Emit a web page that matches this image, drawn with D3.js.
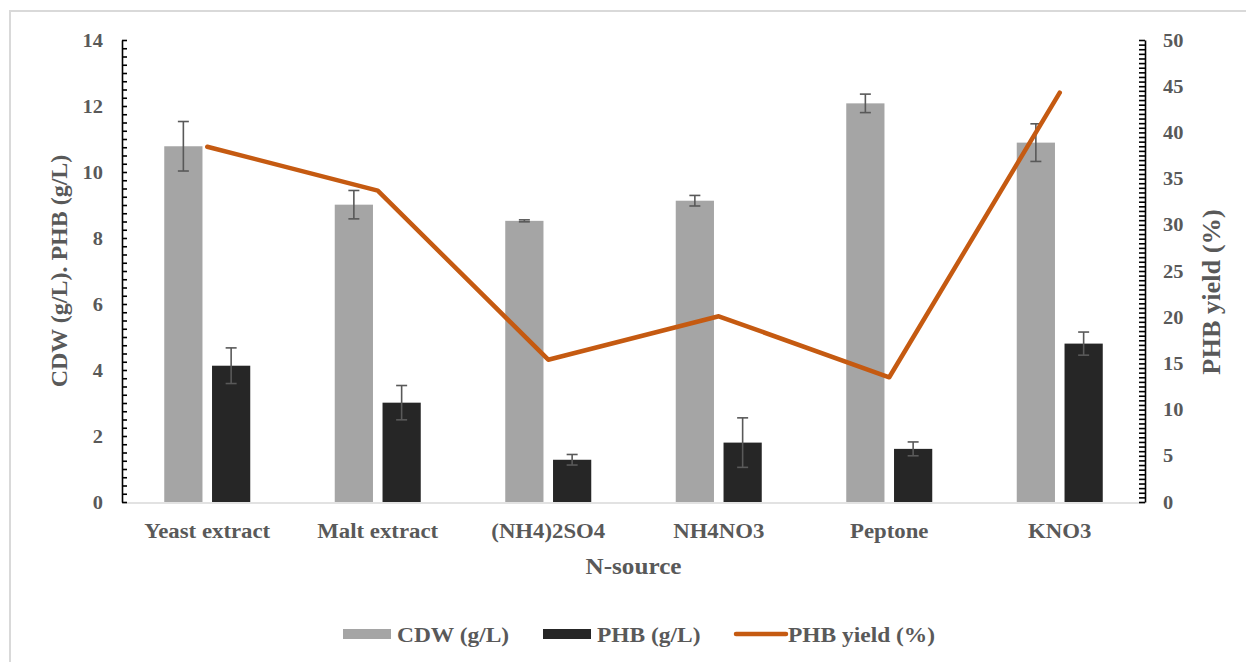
<!DOCTYPE html>
<html>
<head>
<meta charset="utf-8">
<script src="https://cdn.jsdelivr.net/npm/d3@7/dist/d3.min.js"></script>
<style>
  body { margin: 0; background: #fff; }
  svg { display: block; }
  text { font-family: "Liberation Serif", "Times New Roman", serif; font-weight: bold; fill: #595959; }
</style>
</head>
<body>
<div id="chart"></div>
<script>
const categories = ["Yeast extract", "Malt extract", "(NH4)2SO4", "NH4NO3", "Peptone", "KNO3"];
const cdw = [10.78, 9.01, 8.52, 9.13, 12.08, 10.89];
const cdwErr = [0.75, 0.43, 0.03, 0.16, 0.28, 0.57];
const phb = [4.13, 3.01, 1.28, 1.80, 1.61, 4.80];
const phbErr = [0.54, 0.52, 0.16, 0.75, 0.21, 0.35];
const phbYield = [38.45, 33.7, 15.4, 20.1, 13.5, 44.3];
const leftTicks = [0, 2, 4, 6, 8, 10, 12, 14];
const rightTicks = [0, 5, 10, 15, 20, 25, 30, 35, 40, 45, 50];

const W = 1246, H = 662;
const plotL = 122, plotR = 1145, plotT = 40, plotB = 502;
const stretch = 1.08; // text in the original is drawn a little wide

const colors = { cdw: "#a5a5a5", phb: "#262626", line: "#c55a11", err: "#595959" };

const svg = d3.select("#chart").append("svg")
  .attr("width", W)
  .attr("height", H);

// outer chart border
svg.append("rect")
  .attr("x", 10).attr("y", 11)
  .attr("width", W + 20).attr("height", H + 20)
  .attr("fill", "none")
  .attr("stroke", "#d9d9d9")
  .attr("stroke-width", 2);

const x0 = d3.scaleBand().domain(categories).range([plotL, plotR]);
const bw = x0.bandwidth();
const x1 = d3.scaleBand().domain(["cdw", "phb"])
  .range([bw / 2 - 43, bw / 2 + 43])
  .paddingInner(0.2);

const yL = d3.scaleLinear().domain([0, 14]).range([plotB, plotT]);
const yR = d3.scaleLinear().domain([0, 50]).range([plotB, plotT]);

const rows = categories.map((c, i) => ({
  cat: c, cdw: cdw[i], cdwErr: cdwErr[i], phb: phb[i], phbErr: phbErr[i], yld: phbYield[i]
}));

// helper for wide text
function label(g, x, y, txt, size, anchor, rot) {
  return g.append("text")
    .attr("transform", `translate(${x},${y})` + (rot ? ` rotate(${rot})` : "") + ` scale(${stretch},1)`)
    .attr("text-anchor", anchor)
    .style("font-size", size + "px")
    .text(txt);
}

// x axis line
svg.append("g")
  .attr("transform", `translate(0,${plotB + 0.5})`)
  .call(d3.axisBottom(x0).tickSize(0).tickFormat(""))
  .call(g => g.select(".domain").attr("stroke", "#d9d9d9").attr("stroke-width", 1.5));

// bars
const groups = svg.selectAll(".grp")
  .data(rows)
  .enter()
  .append("g")
  .attr("transform", d => `translate(${x0(d.cat)},0)`);

["cdw", "phb"].forEach(k => {
  groups.append("rect")
    .attr("x", x1(k))
    .attr("width", x1.bandwidth())
    .attr("y", d => yL(d[k]))
    .attr("height", d => yL(0) - yL(d[k]))
    .attr("fill", colors[k]);

  // error bars
  const eb = groups.append("g").attr("stroke", colors.err).attr("stroke-width", 1.6);
  const cx = x1(k) + x1.bandwidth() / 2;
  eb.append("line")
    .attr("x1", cx).attr("x2", cx)
    .attr("y1", d => yL(d[k] + d[k + "Err"]))
    .attr("y2", d => yL(d[k] - d[k + "Err"]));
  eb.append("line")
    .attr("x1", cx - 5.5).attr("x2", cx + 5.5)
    .attr("y1", d => yL(d[k] + d[k + "Err"]))
    .attr("y2", d => yL(d[k] + d[k + "Err"]));
  eb.append("line")
    .attr("x1", cx - 5.5).attr("x2", cx + 5.5)
    .attr("y1", d => yL(d[k] - d[k + "Err"]))
    .attr("y2", d => yL(d[k] - d[k + "Err"]));
});

// yield line
const line = d3.line()
  .x(d => x0(d.cat) + bw / 2)
  .y(d => yR(d.yld));

svg.append("path")
  .datum(rows)
  .attr("d", line)
  .attr("fill", "none")
  .attr("stroke", colors.line)
  .attr("stroke-width", 4.5)
  .attr("stroke-linejoin", "round")
  .attr("stroke-linecap", "round");

// left axis
const axL = svg.append("g").attr("transform", `translate(${plotL},0)`);
axL.call(d3.axisLeft(yL).tickValues(leftTicks).tickSize(6).tickSizeOuter(0).tickFormat(""));
axL.call(d3.axisRight(yL).tickValues(d3.range(0, 14.01, 0.25)).tickSize(5).tickSizeOuter(0).tickFormat(""));
axL.selectAll("line, path").attr("stroke", "#000").attr("stroke-width", 1.6);

// right axis
const axR = svg.append("g").attr("transform", `translate(${plotR},0)`);
axR.call(d3.axisRight(yR).tickValues(rightTicks).tickSize(6).tickSizeOuter(0).tickFormat(""));
axR.call(d3.axisLeft(yR).tickValues(d3.range(0, 50.01, 0.5)).tickSize(6).tickSizeOuter(0).tickFormat(""));
axR.selectAll("line, path").attr("stroke", "#000").attr("stroke-width", 1.6);

// tick labels
leftTicks.forEach(v => label(svg, 103, yL(v) + 6.5, v, 18.9, "end"));
rightTicks.forEach(v => label(svg, 1163, yR(v) + 6.5, v, 18.9, "start"));

categories.forEach(c => label(svg, x0(c) + bw / 2, 538, c, 21.1, "middle"));

// axis titles
label(svg, (plotL + plotR) / 2, 574, "N-source", 23.3, "middle");
label(svg, 67, (plotT + plotB) / 2, "CDW (g/L). PHB (g/L)", 22.2, "middle", -90);
label(svg, 1220, 292, "PHB yield (%)", 24.4, "middle", -90);

// legend
const legendItems = [
  { name: "CDW (g/L)", key: "cdw", x: 343 },
  { name: "PHB (g/L)", key: "phb", x: 543 },
  { name: "PHB yield (%)", key: "line", x: 734 }
];
const lg = svg.append("g");
legendItems.forEach(d => {
  if (d.key === "line") {
    lg.append("line")
      .attr("x1", d.x + 2).attr("x2", d.x + 52)
      .attr("y1", 634).attr("y2", 634)
      .attr("stroke", colors.line)
      .attr("stroke-width", 4.5)
      .attr("stroke-linecap", "round");
  } else {
    lg.append("rect")
      .attr("x", d.x).attr("y", 629)
      .attr("width", 48).attr("height", 10)
      .attr("fill", colors[d.key]);
  }
  label(lg, d.x + 54, 642, d.name, 21.7, "start");
});
</script>
</body>
</html>
